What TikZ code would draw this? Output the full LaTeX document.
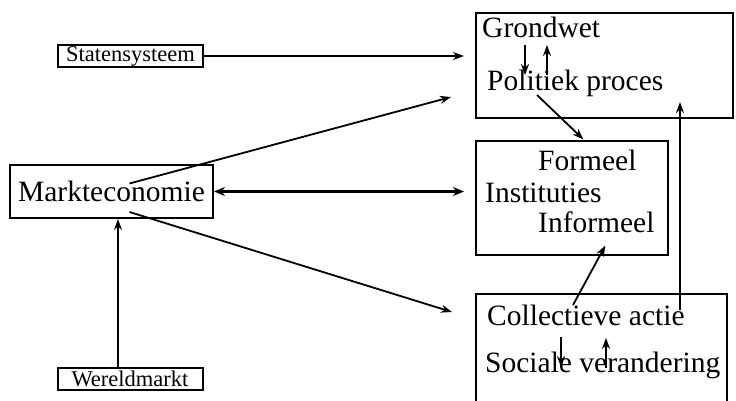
\documentclass[tikz,border=0pt]{standalone}
\usepackage{fontspec}
\setmainfont{Liberation Serif}
\usetikzlibrary{arrows.meta,positioning,calc}

\begin{document}
\begin{tikzpicture}[x=1pt, y=-1pt,
    bigbox/.style={rectangle, draw, line width=2pt, inner sep=0pt},
    smallbox/.style={rectangle, draw, line width=2pt, inner sep=0pt, minimum width=145pt, minimum height=22pt, font=\fontsize{22.5}{26}\selectfont},
    txt/.style={anchor=base west, inner sep=0pt, font=\fontsize{29.5}{32}\selectfont},
    arrow/.style={-{Stealth[length=11pt,width=8pt]}, line width=1.8pt}
]
\useasboundingbox (0,0) rectangle (736,400);

% Boxes on the right
\node[bigbox, minimum width=257pt, minimum height=105pt] (gbox) at (604.5,65.5) {};
\node[bigbox, minimum width=192pt, minimum height=114pt] (ibox) at (572,198) {};
\node[bigbox, minimum width=251pt, minimum height=110pt] (cbox) at (601.5,349) {};

% Texts in the boxes
\node[txt] (grondwet) at (482,37) {Grondwet};
\node[txt] (politiek) at (487,90) {Politiek proces};
\node[txt] (formeel) at (538,170) {Formeel};
\node[txt] (instituties) at (485,202) {Instituties};
\node[txt] (informeel) at (538,232) {Informeel};
\node[txt] (collectief) at (487,325) {Collectieve actie};
\node[txt] (sociaal) at (485,372) {Sociale verandering};

% Left side
\node[smallbox] (staten) at (130.5,56) {Statensysteem};
\node[bigbox, minimum width=203pt, minimum height=53pt, font=\fontsize{29.5}{32}\selectfont] (markt) at (111.5,191.5) {Markteconomie};
\node[smallbox] (wereld) at (130,379) {Wereldmarkt};

% Points inside the texts
\coordinate (m1) at ($(markt.center)+(18,-8)$);
\coordinate (m2) at ($(markt.center)+(18,20.5)$);
\coordinate (g1) at ($(grondwet.base west)+(43,8)$);
\coordinate (g2) at ($(grondwet.base west)+(65,38)$);
\coordinate (c1) at ($(collectief.base west)+(74,12)$);
\coordinate (c2) at ($(collectief.base west)+(119,43)$);
\coordinate (p1) at ($(politiek.base west)+(50,5)$);
\coordinate (c3) at ($(collectief.base west)+(86,-20)$);
\coordinate (v0) at ($(collectief.base west)+(193,-15)$);

% Arrows from the left
\draw[arrow, shorten >=11pt] (staten.east) -- (staten.east -| gbox.west);
\draw[arrow] (m1) -- ($(gbox.west)+(-24,31.5)$);
\draw[{Stealth[length=11pt,width=9pt]}-{Stealth[length=11pt,width=9pt]}, line width=2.5pt, shorten >=11pt] (markt.east) -- (markt.east -| ibox.west);
\draw[arrow] (m2) -- ($(cbox.west)+(-23,-37)$);
\draw[arrow] ($(wereld.north)+(-12,0)$) coordinate (w0) -- (w0 |- markt.south);

% Arrows inside
\draw[arrow] (g1) -- ++(0,30);
\draw[arrow] (g2) -- ++(0,-30);
\draw[arrow] (p1) -- ($(formeel.north)+(-4,-10)$);
\draw[arrow] (c3) -- ($(informeel.south)+(9,13)$);
\draw[arrow] (v0) -- ++(0,-208);
\draw[arrow] (c1) -- ++(0,30);
\draw[arrow] (c2) -- ++(0,-30);

\end{tikzpicture}
\end{document}
